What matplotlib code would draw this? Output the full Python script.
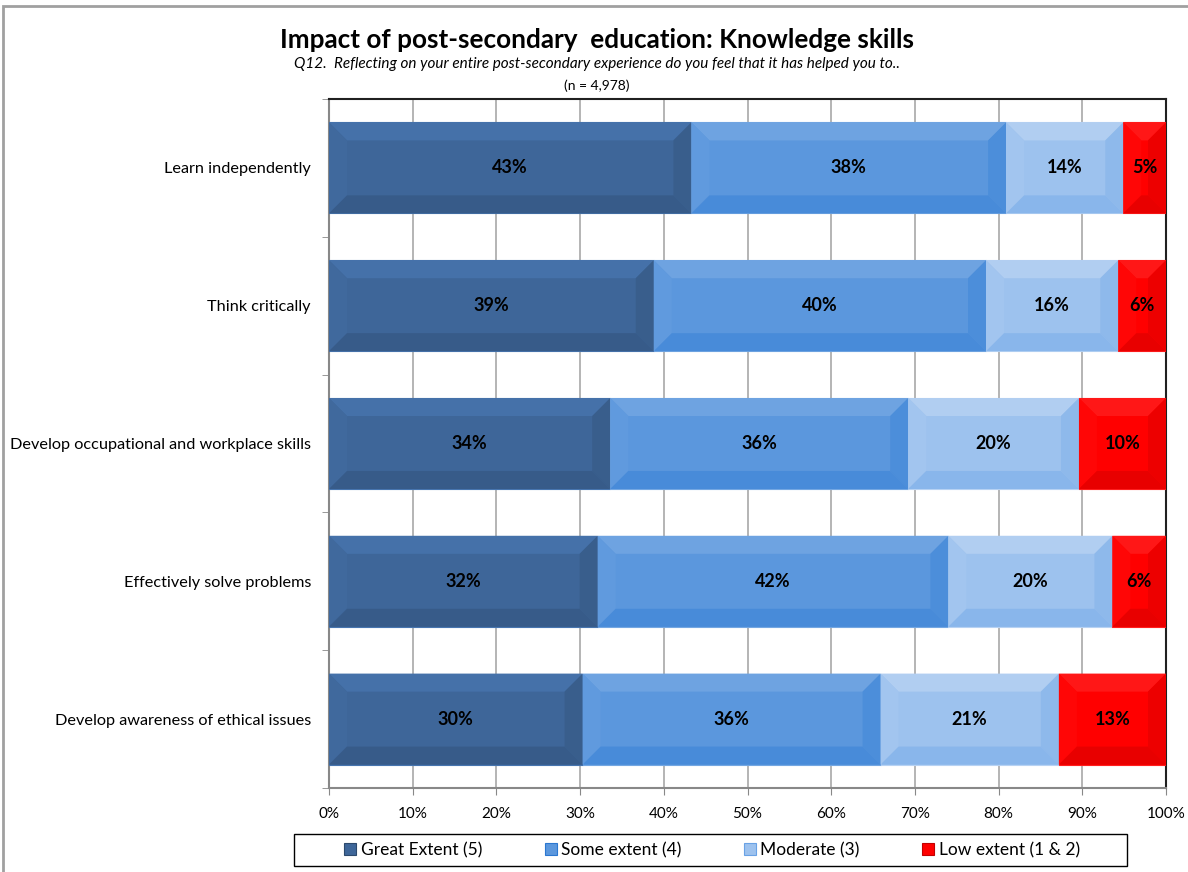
import matplotlib.pyplot as plt
import matplotlib.patches as mpatches
import numpy as np
import colorsys
from matplotlib.colors import to_rgb

plt.rcParams['font.family'] = ['Lato', 'DejaVu Sans']

# Data
categories = ['Learn independently', 'Think critically',
              'Develop occupational and workplace skills',
              'Effectively solve problems', 'Develop awareness of ethical issues']
great = [43.3, 38.8, 33.6, 32.1, 30.3]
some = [37.6, 39.7, 35.6, 41.9, 35.6]
moderate = [14.0, 15.8, 20.4, 19.6, 21.3]
low = [5.1, 5.7, 10.4, 6.4, 12.8]
series_names = ['Great Extent (5)', 'Some extent (4)', 'Moderate (3)', 'Low extent (1 & 2)']
series = [great, some, moderate, low]
colors = ['#3E6699', '#5B97DD', '#9DC2EE', '#FF0000']
xticks = [0, 10, 20, 30, 40, 50, 60, 70, 80, 90, 100]


def shade(c, f):
    # f > 0 lightens, f < 0 darkens
    r, g, b = to_rgb(c)
    h, l, s = colorsys.rgb_to_hls(r, g, b)
    l = min(1, max(0, l + f))
    return colorsys.hls_to_rgb(h, l, s)


W, H = 1188, 872
fig = plt.figure(figsize=(W / 100, H / 100), dpi=100)
ax = fig.add_axes([329 / W, 1 - 788 / H, 837 / W, 689 / H])

ax.set_xlim(0, 100)
ax.set_ylim(4.5, -0.5)

bar_h = 0.66
# bevel depth in data units (~18 px)
bev_x = 18 / (837 / 100)
bev_y = 18 / (689 / 5)

y = np.arange(len(categories))
left = np.zeros(len(categories))
for vals, col in zip(series, colors):
    vals = np.array(vals)
    bars = ax.barh(y, vals, left=left, height=bar_h, color=col,
                   edgecolor=shade(col, 0.06), linewidth=0.8, zorder=3)
    for b, v in zip(bars, vals):
        x0, y0 = b.get_x(), b.get_y()
        x1, y1 = x0 + b.get_width(), y0 + b.get_height()
        dx = min(bev_x, b.get_width() / 2)
        dy = bev_y
        # y axis is inverted: y0 is the top edge on screen
        top = [(x0, y0), (x1, y0), (x1 - dx, y0 + dy), (x0 + dx, y0 + dy)]
        bot = [(x0, y1), (x1, y1), (x1 - dx, y1 - dy), (x0 + dx, y1 - dy)]
        lft = [(x0, y0), (x0 + dx, y0 + dy), (x0 + dx, y1 - dy), (x0, y1)]
        rgt = [(x1, y0), (x1 - dx, y0 + dy), (x1 - dx, y1 - dy), (x1, y1)]
        for poly, f in [(top, 0.045), (lft, 0.012), (rgt, -0.035), (bot, -0.045)]:
            ax.add_patch(mpatches.Polygon(poly, closed=True, facecolor=shade(col, f),
                                          edgecolor='none', zorder=4))
        ax.text(x0 + b.get_width() / 2, b.get_y() + b.get_height() / 2, f'{v:.0f}%',
                ha='center', va='center', fontsize=13, fontweight='bold',
                color='black', zorder=5)
    left += vals

# Axes styling
ax.set_xticks(xticks)
ax.set_xticklabels([f'{t}%' for t in xticks], fontsize=11)
ax.tick_params(axis='x', length=5, color='#888888', pad=9)
ax.set_yticks(y)
ax.set_yticklabels(categories, fontsize=11.7)
ax.tick_params(axis='y', which='major', length=0, pad=13)
ax.set_yticks(np.arange(-0.5, 5, 1), minor=True)
ax.tick_params(axis='y', which='minor', length=5, color='#888888')
ax.xaxis.grid(True, color='#B4B4B4', linewidth=1.4, zorder=0)
ax.set_axisbelow(True)
for s in ['top', 'right']:
    ax.spines[s].set_color('#202020')
    ax.spines[s].set_linewidth(1.5)
for s in ['left', 'bottom']:
    ax.spines[s].set_color('#888888')
    ax.spines[s].set_linewidth(1.5)

# Titles
fig.text(597 / W, 1 - 40 / H, 'Impact of post-secondary  education: Knowledge skills',
         ha='center', va='center', fontsize=18.8, fontweight='bold')
fig.text(597 / W, 1 - 64 / H,
         'Q12.  Reflecting on your entire post-secondary experience do you feel that it has helped you to..',
         ha='center', va='center', fontsize=11, style='italic')
fig.text(597 / W, 1 - 86 / H, '(n = 4,978)', ha='center', va='center', fontsize=10)

# Legend (box drawn separately)
handles = [mpatches.Patch(facecolor=c, edgecolor=shade(c, -0.12), linewidth=0.8)
           for c in colors]
leg = fig.legend(handles, series_names, loc='center',
                 bbox_to_anchor=(712 / W, 1 - 850 / H),
                 ncol=4, fontsize=12.5, frameon=False,
                 handlelength=0.7, handleheight=0.7, handletextpad=0.25,
                 columnspacing=3.6, borderaxespad=0, borderpad=0)
fig.add_artist(mpatches.Rectangle((294 / W, 1 - 866 / H), 833 / W, 32 / H,
                                  transform=fig.transFigure, fill=False,
                                  edgecolor='black', linewidth=1.0))

# Outer chart border
fig.add_artist(mpatches.Rectangle((3 / W, -0.05), 1.1, 1 - 6 / H + 0.05,
                                  transform=fig.transFigure, fill=False,
                                  edgecolor='#A0A0A0', linewidth=2))

fig.savefig('out.png', dpi=100)
